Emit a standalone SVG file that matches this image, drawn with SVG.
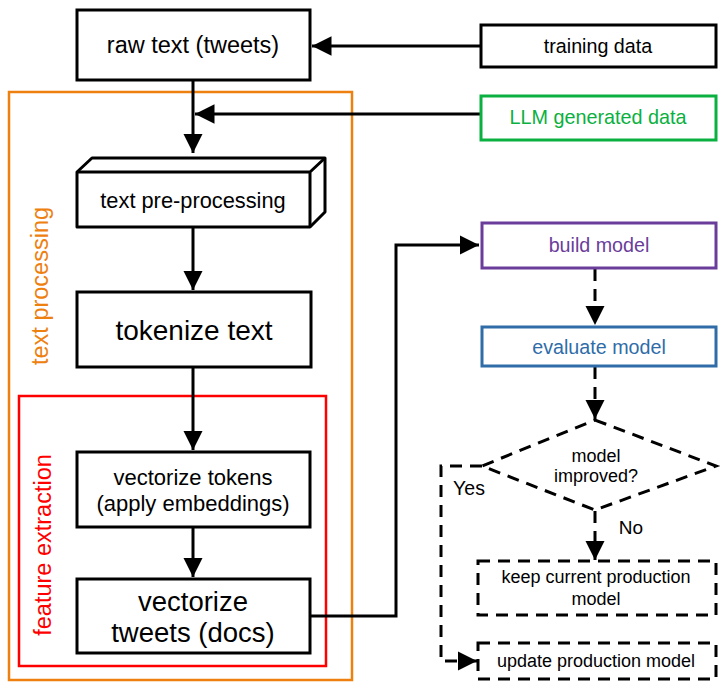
<svg xmlns="http://www.w3.org/2000/svg" width="724" height="694" viewBox="0 0 724 694">
<defs>
<marker id="ah" viewBox="0 0 10 10" refX="10" refY="5" markerWidth="6.5" markerHeight="6.5" markerUnits="strokeWidth" orient="auto">
<path d="M0,0 L10,5 L0,10 z" fill="#000"/>
</marker>
<style>
text{font-family:"Liberation Sans",Arial,sans-serif;text-anchor:middle;dominant-baseline:central}
.box{fill:#fff;stroke:#000;stroke-width:3}
.dash{fill:#fff;stroke:#000;stroke-width:3;stroke-dasharray:12,8}
.ln{fill:none;stroke:#000;stroke-width:3}
.dl{fill:none;stroke:#000;stroke-width:3;stroke-dasharray:12,8}
</style>
</defs>
<rect width="724" height="694" fill="#fff"/>
<g id="text-processing">
<rect x="9" y="92" width="343" height="588" fill="none" stroke="#EE8010" stroke-width="2.5"/>
<text transform="translate(40,286) rotate(-90)" font-size="23.5" fill="#EE8010">text processing</text>
</g>
<g id="feature-extraction">
<rect x="19" y="396" width="307" height="270" fill="none" stroke="#FF0000" stroke-width="2.5"/>
<text transform="translate(43,545) rotate(-90)" font-size="23.5" fill="#FF0000">feature extraction</text>
</g>
<g id="connectors">
<path class="ln" d="M481,46 H312" marker-end="url(#ah)"/>
<path class="ln" d="M481,114 H195" marker-end="url(#ah)"/>
<path class="ln" d="M193,81 V153" marker-end="url(#ah)"/>
<path class="ln" d="M193,228 V290" marker-end="url(#ah)"/>
<path class="ln" d="M193,368 V450" marker-end="url(#ah)"/>
<path class="ln" d="M193,528 V577" marker-end="url(#ah)"/>
<path class="ln" d="M311,616 H396 V245 H479" marker-end="url(#ah)"/>
<path class="dl" d="M595,269 V325" marker-end="url(#ah)"/>
<path class="dl" d="M595,367 V419" marker-end="url(#ah)"/>
<path class="dl" d="M595,511 V560" marker-end="url(#ah)"/>
<path class="dl" d="M482,466 H441 V661 H477" marker-end="url(#ah)"/>
<text x="469" y="488" font-size="19.5">Yes</text>
<text x="631" y="527" font-size="19">No</text>
</g>
<g id="raw-text">
<rect class="box" x="77" y="10" width="233" height="70"/>
<text x="193" y="45" font-size="23.5">raw text (tweets)</text>
</g>
<g id="training-data">
<rect class="box" x="481" y="25" width="235" height="42"/>
<text x="598" y="46" font-size="19.7">training data</text>
</g>
<g id="llm-data">
<rect x="481" y="96" width="235" height="44" fill="#fff" stroke="#0AB040" stroke-width="3"/>
<text x="598" y="117" font-size="19.8" fill="#0AB040">LLM generated data</text>
</g>
<g id="pre-processing">
<path class="box" d="M77,172 L92,158 H325 V212 L310,227 H77 Z" stroke-linejoin="round"/>
<path class="ln" d="M77,172 H310 V227 M310,172 L325,158"/>
<text x="193" y="200" font-size="21.8">text pre-processing</text>
</g>
<g id="tokenize">
<rect class="box" x="77" y="292" width="234" height="75"/>
<text x="194" y="330" font-size="28">tokenize text</text>
</g>
<g id="vectorize-tokens">
<rect class="box" x="77" y="452" width="233" height="75"/>
<text x="193" y="477" font-size="22">vectorize tokens</text>
<text x="193" y="503" font-size="22">(apply embeddings)</text>
</g>
<g id="vectorize-tweets">
<rect class="box" x="77" y="579" width="233" height="74"/>
<text x="193" y="601" font-size="27.5">vectorize</text>
<text x="193" y="632" font-size="27.5">tweets (docs)</text>
</g>
<g id="build-model">
<rect x="482" y="223" width="234" height="45" fill="#fff" stroke="#6A3D9A" stroke-width="3"/>
<text x="599" y="245" font-size="19.7" fill="#6A3D9A">build model</text>
</g>
<g id="evaluate-model">
<rect x="482" y="327" width="234" height="39" fill="#fff" stroke="#2F6CA8" stroke-width="3"/>
<text x="599" y="347" font-size="19.7" fill="#2F6CA8">evaluate model</text>
</g>
<g id="decision">
<path class="dash" d="M595,420 L716,466 L595,510 L482,466 Z"/>
<text x="596" y="456" font-size="18">model</text>
<text x="596" y="476" font-size="18">improved?</text>
</g>
<g id="keep-current">
<rect class="dash" x="478" y="561" width="238" height="54"/>
<text x="596" y="577" font-size="18">keep current production</text>
<text x="596" y="599" font-size="18">model</text>
</g>
<g id="update-production">
<rect class="dash" x="478" y="643" width="238" height="36"/>
<text x="596" y="661" font-size="18">update production model</text>
</g>
</svg>
